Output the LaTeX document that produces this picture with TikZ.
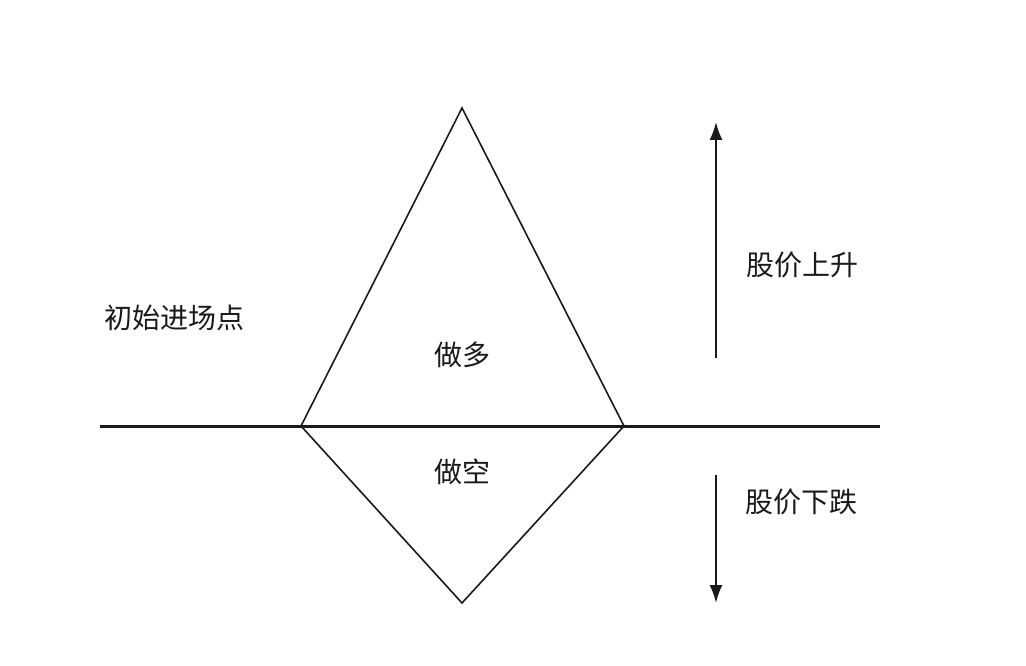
\documentclass[tikz,border=0pt]{standalone}
\usepackage{fontspec}
\setmainfont{Noto Sans CJK SC}
\usetikzlibrary{arrows.meta}
\definecolor{ink}{HTML}{1A1A1A}
\tikzset{
  shape line/.style={draw=ink, line width=1.6pt, line join=miter},
  axis line/.style={draw=ink, line width=3pt},
  move arrow/.style={draw=ink, line width=2pt, -{Latex[length=18pt,width=13pt]}},
  label/.style={text=ink, font=\fontsize{28}{31}\selectfont, inner sep=0pt}
}
\begin{document}
\begin{tikzpicture}[x=1pt,y=-1pt]
\useasboundingbox[fill=white] (0,0) rectangle (1026,666);
% key points
\coordinate (L) at (301,426);
\coordinate (R) at (624,426);
\coordinate (T) at (462,108);
\coordinate (B) at (462,603);
\coordinate (axisL) at (100,426);
\coordinate (axisR) at (880,426);
\coordinate (upS) at (716,358);
\coordinate (upE) at (716,122);
\coordinate (dnS) at (716,475);
\coordinate (dnE) at (716,603);
% shapes
\draw[axis line] (axisL) -- (axisR);
\draw[shape line] (L) -- (T) -- (R);
\draw[shape line] (L) -- (B) -- (R);
% arrows
\draw[move arrow] (upS) -- (upE);
\draw[move arrow] (dnS) -- (dnE);
% labels
\node[label] (entry) at (174,318) {初始进场点};
\node[label] (long) at (462,355) {做多};
\node[label] (short) at (462,472) {做空};
\node[label] (rise) at (802,265) {股价上升};
\node[label] (fall) at (801,502) {股价下跌};
\end{tikzpicture}
\end{document}
